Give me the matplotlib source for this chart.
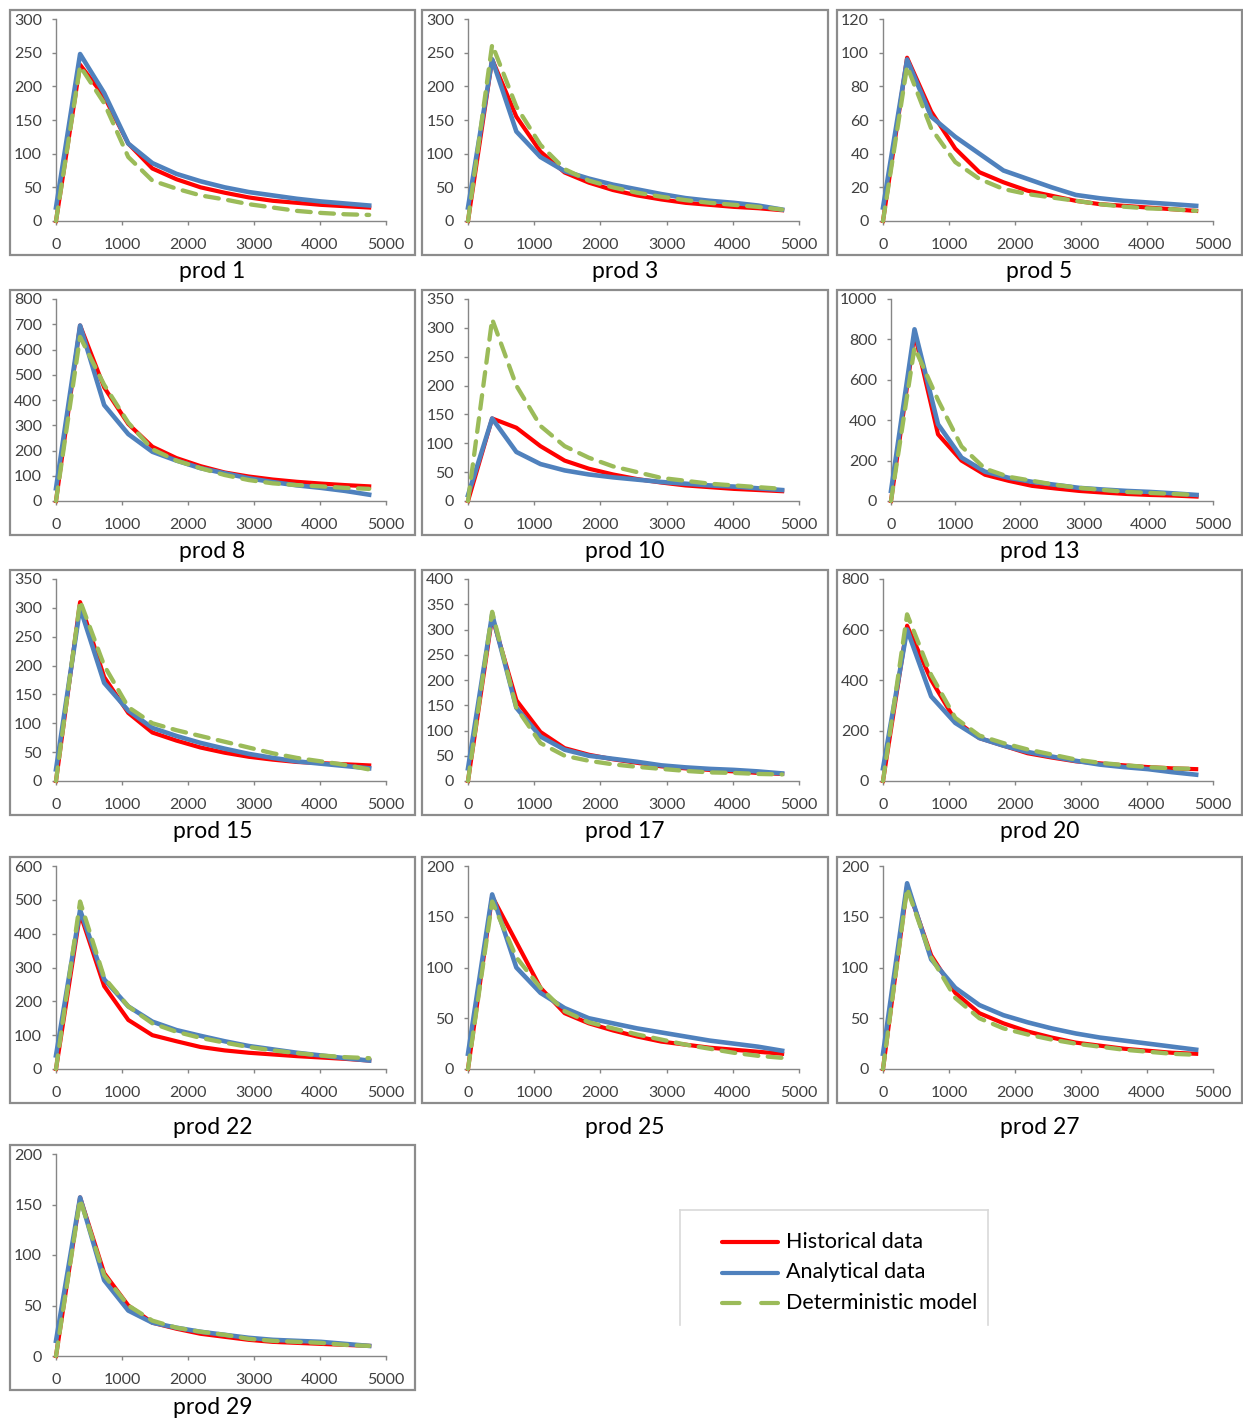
import matplotlib
matplotlib.use("Agg")
import matplotlib.pyplot as plt
from matplotlib.patches import Rectangle
from matplotlib.lines import Line2D

plt.rcParams['font.family'] = ['Lato', 'DejaVu Sans']

# Time axis (days), one point per year
days = [0, 365, 730, 1095, 1460, 1825, 2190, 2555, 2920, 3285, 3650, 4015, 4380, 4745]

products = ["prod 1", "prod 3", "prod 5", "prod 8", "prod 10", "prod 13", "prod 15",
            "prod 17", "prod 20", "prod 22", "prod 25", "prod 27", "prod 29"]

y_max = [300, 300, 120, 800, 350, 1000, 350, 400, 800, 600, 200, 200, 200]
y_step = [50, 50, 20, 100, 50, 200, 50, 50, 200, 100, 50, 50, 50]

historical = [
    [0, 232, 185, 115, 78, 62, 50, 42, 35, 30, 27, 24, 22, 20],
    [0, 240, 155, 103, 72, 57, 46, 38, 32, 27, 24, 21, 19, 16],
    [0, 97, 65, 43, 29, 23, 18, 15, 12, 10, 9, 8, 7, 6],
    [0, 695, 450, 305, 215, 170, 138, 113, 97, 85, 76, 69, 63, 58],
    [0, 143, 127, 95, 70, 56, 46, 38, 32, 27, 24, 21, 19, 17],
    [0, 830, 330, 200, 130, 100, 75, 62, 50, 42, 35, 30, 27, 22],
    [0, 310, 180, 118, 84, 70, 58, 49, 42, 37, 33, 31, 29, 27],
    [0, 325, 160, 97, 65, 52, 43, 36, 29, 25, 22, 19, 16, 14],
    [0, 615, 400, 240, 170, 140, 110, 93, 78, 70, 62, 55, 50, 47],
    [0, 460, 245, 145, 100, 82, 65, 55, 48, 43, 38, 34, 30, 25],
    [0, 170, 125, 80, 55, 45, 38, 32, 27, 24, 21, 19, 17, 15],
    [0, 180, 112, 75, 55, 45, 37, 31, 26, 23, 20, 18, 16, 15],
    [0, 157, 82, 50, 33, 27, 22, 19, 16, 14, 13, 12, 11, 10],
]

analytical = [
    [20, 248, 190, 115, 86, 70, 59, 50, 43, 38, 33, 29, 26, 23],
    [20, 240, 133, 95, 74, 63, 54, 47, 40, 34, 30, 27, 23, 17],
    [8, 96, 62, 50, 40, 30, 25, 20, 15.5, 13.5, 12, 11, 10, 9],
    [50, 695, 380, 265, 195, 160, 130, 110, 90, 75, 62, 52, 40, 25],
    [10, 143, 85, 64, 53, 46, 41, 37, 33, 30, 27, 25, 22, 19],
    [50, 850, 380, 215, 145, 115, 95, 80, 65, 57, 50, 45, 38, 30],
    [20, 300, 170, 122, 92, 78, 66, 56, 47, 40, 34, 30, 26, 22],
    [25, 330, 145, 88, 62, 50, 44, 38, 31, 27, 24, 22, 19, 15],
    [50, 600, 335, 230, 170, 140, 115, 97, 80, 65, 55, 47, 35, 25],
    [40, 470, 265, 185, 140, 115, 98, 82, 68, 58, 48, 40, 32, 25],
    [15, 172, 100, 75, 60, 50, 45, 40, 36, 32, 28, 25, 22, 18],
    [15, 183, 108, 80, 63, 53, 46, 40, 35, 31, 28, 25, 22, 19],
    [15, 157, 75, 45, 33, 28, 24, 21, 18, 16, 15, 14, 12, 10],
]

deterministic = [
    [0, 230, 175, 95, 60, 48, 38, 32, 25, 20, 15, 12, 10, 9],
    [0, 262, 170, 113, 77, 60, 50, 42, 36, 31, 27, 24, 21, 17],
    [0, 92, 55, 35, 25, 19, 16, 14, 12, 10, 8.5, 7.5, 7, 6],
    [0, 650, 460, 310, 205, 160, 130, 103, 83, 70, 63, 58, 52, 48],
    [0, 315, 200, 130, 95, 75, 60, 50, 40, 35, 30, 27, 24, 21],
    [0, 760, 500, 270, 160, 120, 100, 80, 65, 55, 45, 40, 35, 30],
    [0, 312, 200, 128, 100, 88, 78, 68, 58, 48, 40, 34, 28, 20],
    [0, 335, 145, 75, 50, 40, 33, 28, 24, 20, 17, 16, 14, 13],
    [0, 660, 420, 250, 180, 150, 125, 105, 85, 72, 63, 55, 50, 48],
    [0, 495, 270, 185, 135, 110, 92, 78, 65, 55, 47, 40, 35, 32],
    [0, 165, 110, 80, 57, 46, 40, 34, 29, 24, 20, 16, 13, 11],
    [0, 178, 110, 70, 50, 40, 34, 29, 25, 22, 19, 17, 15, 14],
    [0, 155, 80, 50, 35, 28, 24, 21, 17, 15, 14, 13, 11, 10],
]

series_names = ["Historical data", "Analytical data", "Deterministic model"]

RED = "#FF0000"
BLUE = "#4F81BD"
GREEN = "#9BBB59"
AXIS_GRAY = "#868686"
TEXT = "#404040"

W, H = 1243, 1422
fig = plt.figure(figsize=(W / 100, H / 100), dpi=100)
fig.patch.set_facecolor("white")


def fx(x):
    return x / W


def fy(y):
    return 1 - y / H


rows = [(10, 255, 272), (290, 535, 552), (570, 815, 832), (857, 1103, 1128), (1145, 1390, 1407)]
cols = [(10, 415), (422, 828), (837, 1242)]

for i, name in enumerate(products):
    r, c = divmod(i, 3)
    top, bot, title_y = rows[r]
    left, right = cols[c]

    # Chart frame
    fig.patches.append(Rectangle((fx(left), fy(bot)), fx(right - left), (bot - top) / H,
                                 transform=fig.transFigure, fill=False,
                                 edgecolor="#8C8C8C", linewidth=1.6))

    lab_extra = 8 if y_max[i] >= 1000 else 0
    pl = left + 46 + lab_extra
    pr = right - 29
    pt = top + 9
    pb = bot - 34
    ax = fig.add_axes([fx(pl), fy(pb), fx(pr - pl), (pb - pt) / H])

    ax.plot(days, historical[i], color=RED, lw=3.0, clip_on=False, zorder=3,
            solid_joinstyle="round")
    ax.plot(days, analytical[i], color=BLUE, lw=3.3, clip_on=False, zorder=4,
            solid_joinstyle="round")
    ax.plot(days, deterministic[i], color=GREEN, lw=3.1, clip_on=False, zorder=5,
            dashes=(3.2, 2.2), dash_capstyle="round")

    ax.set_xlim(0, 5000)
    ax.set_ylim(0, y_max[i])
    ax.set_xticks(range(0, 5001, 1000))
    ax.set_yticks(range(0, y_max[i] + 1, y_step[i]))
    for s in ("top", "right"):
        ax.spines[s].set_visible(False)
    for s in ("left", "bottom"):
        ax.spines[s].set_color(AXIS_GRAY)
        ax.spines[s].set_linewidth(1.0)
    ax.tick_params(axis="both", direction="out", length=3, width=1.0, color=AXIS_GRAY,
                   labelsize=11.5, labelcolor=TEXT, pad=7)
    ax.tick_params(axis="x", pad=9)
    ax.patch.set_alpha(0)

    fig.text(fx((left + right) / 2), fy(title_y), name, ha="center", va="center",
             fontsize=16.5, color="black")

# Legend panel
lx0, lx1, ly0, ly1 = 680, 988, 1210, 1325
for (xa, ya, xb, yb) in [(lx0, ly0, lx1, ly0), (lx0, ly0, lx0, ly1), (lx1, ly0, lx1, ly1)]:
    fig.lines.append(Line2D([fx(xa), fx(xb)], [fy(ya), fy(yb)], transform=fig.transFigure,
                            color="#D9D9D9", lw=1.2))

leg_styles = [
    dict(color=RED, lw=3.0, solid_capstyle="round"),
    dict(color=BLUE, lw=3.0, solid_capstyle="round"),
    dict(color=GREEN, lw=3.0, dashes=(4.2, 5.2), dash_capstyle="round"),
]
for k, (label, st) in enumerate(zip(series_names, leg_styles)):
    yy = 1242 + k * 30.5
    fig.lines.append(Line2D([fx(722), fx(778)], [fy(yy), fy(yy)], transform=fig.transFigure,
                            **st))
    fig.text(fx(786), fy(yy), label, ha="left", va="center", fontsize=15.5, color="black")

fig.savefig("out.png", dpi=100, facecolor="white")
